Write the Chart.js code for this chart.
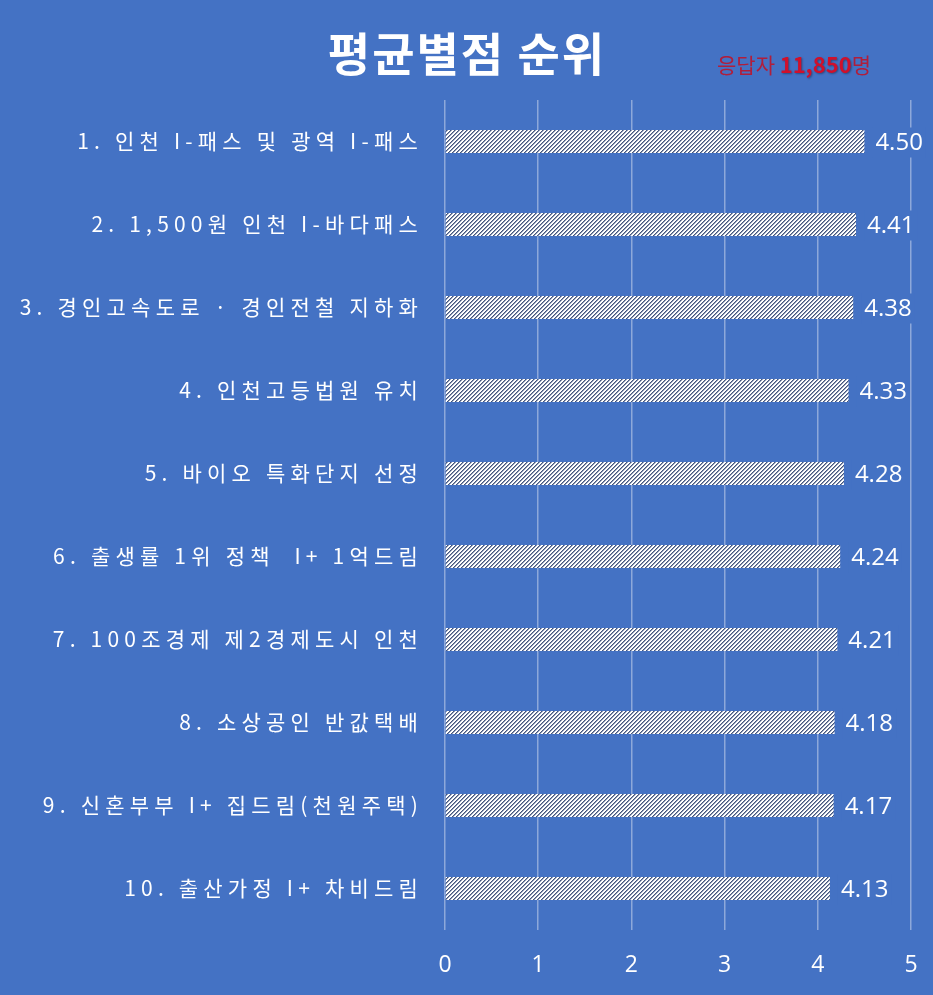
<!DOCTYPE html>
<html>
<head>
<meta charset="utf-8">
<script src="https://cdn.jsdelivr.net/npm/chart.js@4.4.1/dist/chart.umd.min.js"></script>
<style>
  html, body { margin: 0; padding: 0; background: #4472C4; }
  #wrap { width: 933px; height: 995px; position: relative; }
</style>
</head>
<body>
<div id="wrap"><canvas id="c" width="933" height="995"></canvas></div>
<script>
const titleText = '평균별점 순위';
const respondentPrefix = '응답자 ';
const respondentCount = '11,850';
const respondentSuffix = '명';

const categories = [
  '1. 인천 I-패스 및 광역 I-패스',
  '2. 1,500원 인천 I-바다패스',
  '3. 경인고속도로 · 경인전철 지하화',
  '4. 인천고등법원 유치',
  '5. 바이오 특화단지 선정',
  '6. 출생률 1위 정책  I+ 1억드림',
  '7. 100조경제 제2경제도시 인천',
  '8. 소상공인 반값택배',
  '9. 신혼부부 I+ 집드림(천원주택)',
  '10. 출산가정 I+ 차비드림'
];
const values = [4.50, 4.41, 4.38, 4.33, 4.28, 4.24, 4.21, 4.18, 4.17, 4.13];
const xTicks = [0, 1, 2, 3, 4, 5];

const BG = '#4472C4';

function makePattern() {
  const p = document.createElement('canvas');
  p.width = 4; p.height = 4;
  const pc = p.getContext('2d');
  pc.fillStyle = '#ffffff';
  pc.fillRect(0, 0, 4, 4);
  for (let y = 0; y < 4; y++) {
    for (let x = 0; x < 4; x++) {
      const k = (x + y) % 4;
      if (k === 0) { pc.fillStyle = '#45567C'; pc.fillRect(x, y, 1, 1); }
      else if (k === 1) { pc.fillStyle = '#8E9AB6'; pc.fillRect(x, y, 1, 1); }
    }
  }
  return document.getElementById('c').getContext('2d').createPattern(p, 'repeat');
}

const spacingPlugin = {
  id: 'spacing',
  beforeDraw(chart) { chart.ctx.letterSpacing = '5.2px'; },
  beforeDatasetsDraw(chart) { chart.ctx.letterSpacing = '0px'; }
};

const bgPlugin = {
  id: 'bg',
  beforeDraw(chart) {
    const ctx = chart.ctx;
    ctx.save();
    ctx.letterSpacing = '0px';
    ctx.fillStyle = BG;
    ctx.fillRect(0, 0, chart.width, chart.height);
    ctx.restore();
  }
};

const textPlugin = {
  id: 'texts',
  afterDraw(chart) {
    const ctx = chart.ctx;
    ctx.save();
    ctx.letterSpacing = '2px';
    ctx.fillStyle = '#ffffff';
    ctx.font = 'bold 46px "Noto Sans CJK KR"';
    ctx.textAlign = 'center';
    ctx.textBaseline = 'middle';
    ctx.fillText(titleText, 467, 54);
    ctx.letterSpacing = '0px';
    ctx.textAlign = 'left';
    let x = 717;
    const y = 65;
    ctx.font = '21px "Noto Sans CJK KR"';
    ctx.fillStyle = '#B01E3C';
    ctx.fillText(respondentPrefix, x, y);
    x += ctx.measureText(respondentPrefix).width;
    ctx.font = 'bold 22px "Noto Sans CJK KR"';
    ctx.shadowColor = 'rgba(0,0,0,0.35)';
    ctx.shadowOffsetX = 1; ctx.shadowOffsetY = 1; ctx.shadowBlur = 2;
    ctx.fillStyle = '#D0102C';
    ctx.fillText(respondentCount, x, y);
    x += ctx.measureText(respondentCount).width;
    ctx.shadowColor = 'transparent';
    ctx.font = '21px "Noto Sans CJK KR"';
    ctx.fillStyle = '#B01E3C';
    ctx.fillText(respondentSuffix, x, y);
    ctx.restore();
  },
  afterDatasetsDraw(chart) {
    const ctx = chart.ctx;
    const meta = chart.getDatasetMeta(0);
    ctx.save();
    ctx.letterSpacing = '0px';
    ctx.font = '24px "Open Sans"';
    ctx.textAlign = 'left';
    ctx.textBaseline = 'middle';
    meta.data.forEach((bar, i) => {
      const t = values[i].toFixed(2);
      const w = ctx.measureText(t).width;
      const lx = bar.x + 11;
      ctx.fillStyle = BG;
      ctx.fillRect(lx - 3, bar.y - 14, w + 6, 30);
      ctx.fillStyle = '#ffffff';
      ctx.fillText(t, lx, bar.y + 2);
    });
    ctx.restore();
  }
};

new Chart(document.getElementById('c'), {
  type: 'bar',
  data: {
    labels: categories,
    datasets: [{
      data: values,
      backgroundColor: makePattern(),
      borderWidth: 0,
      barPercentage: 0.28,
      categoryPercentage: 1.0
    }]
  },
  options: {
    indexAxis: 'y',
    responsive: false,
    animation: false,
    devicePixelRatio: 1,
    layout: { padding: { top: 100, right: 22, left: 0, bottom: 0 } },
    plugins: {
      legend: { display: false },
      tooltip: { enabled: false },
      title: { display: false }
    },
    scales: {
      x: {
        min: 0, max: 5,
        afterBuildTicks(scale) { scale.ticks = xTicks.map(v => ({ value: v })); },
        afterFit(scale) { scale.height = 65; scale.paddingLeft = 0; scale.paddingRight = 0; },
        grid: { color: '#8DA8DA', lineWidth: 1.5, drawTicks: false },
        border: { display: false },
        ticks: {
          z: 1,
          color: '#ffffff',
          font: { family: '"Open Sans"', size: 23 },
          padding: 22
        }
      },
      y: {
        afterFit(scale) { scale.width = 445; },
        grid: { display: false, drawTicks: false },
        border: { display: false },
        ticks: {
          color: '#ffffff',
          font: { family: '"Noto Sans CJK KR"', size: 21 },
          padding: 22,
          autoSkip: false
        }
      }
    }
  },
  plugins: [bgPlugin, spacingPlugin, textPlugin]
});
</script>
</body>
</html>
